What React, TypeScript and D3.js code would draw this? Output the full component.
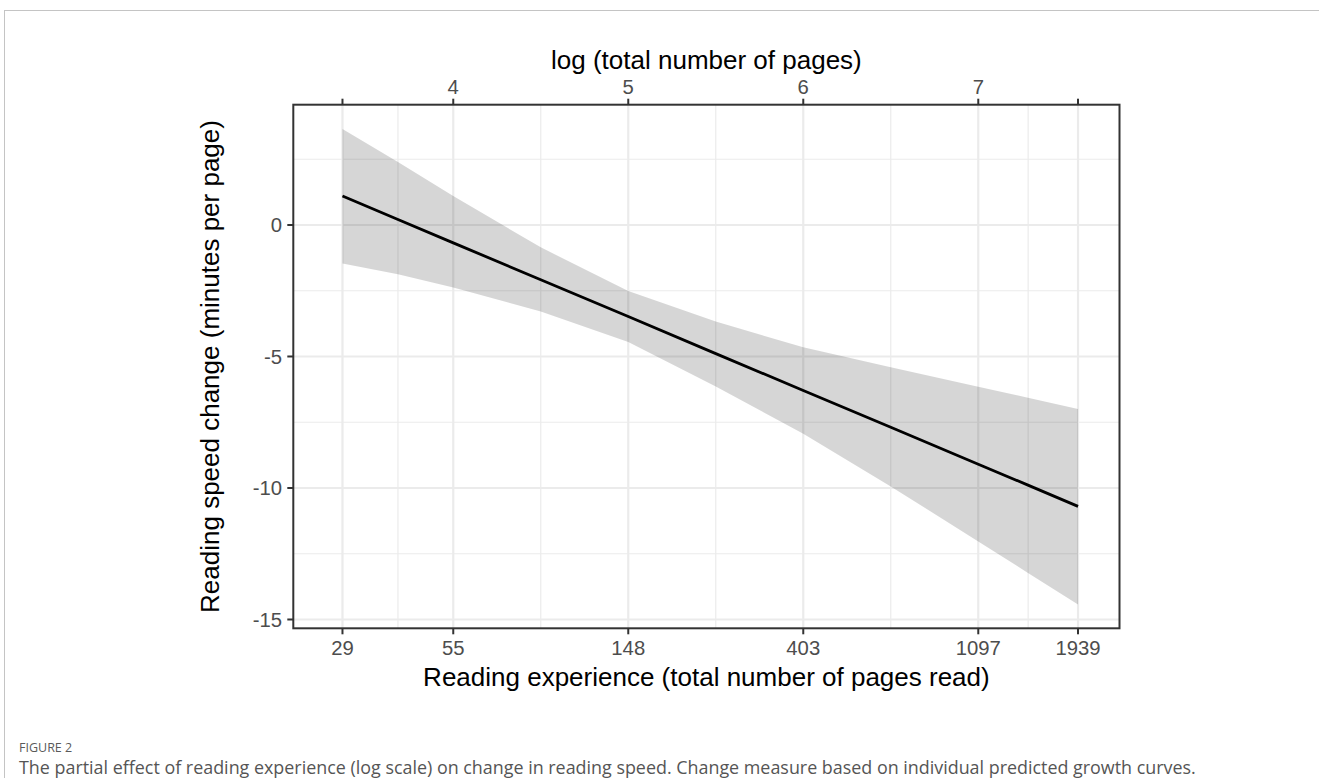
import React from 'react';
import * as d3 from 'd3';

// x in log(total number of pages)
const logPages = [3.367, 3.684, 4.0, 4.5, 5.0, 5.5, 6.0, 6.5, 7.0, 7.284, 7.57];
const fitted = [1.1, 0.21, -0.68, -2.08, -3.48, -4.89, -6.29, -7.69, -9.1, -9.89, -10.7];
const upperCI = [3.65, 2.4, 1.1, -0.85, -2.51, -3.67, -4.65, -5.41, -6.15, -6.57, -7.0];
const lowerCI = [-1.46, -1.87, -2.38, -3.29, -4.45, -6.14, -7.94, -9.94, -12.03, -13.23, -14.43];

const xBreaks = [3.367, 4, 5, 6, 7, 7.57];
const pageLabels = ['29', '55', '148', '403', '1097', '1939'];
const logLabels = ['', '4', '5', '6', '7', ''];
const xMinor = [3.684, 4.5, 5.5, 6.5, 7.285];
const yBreaks = [0, -5, -10, -15];
const yMinor = [2.5, -2.5, -7.5, -12.5];

const W = 1319;
const H = 778;
const panel = { left: 293.3, right: 1119.5, top: 104.7, bottom: 628.3 };
const font = '"Liberation Sans", Arial, Helvetica, sans-serif';
const capFont = '"Open Sans", "Noto Sans", sans-serif';
const tickLen = 6;
const tickSize = 20.3;
const titleSize = 26;

export default function App() {
  const x = d3.scaleLinear().domain([3.086, 7.807]).range([panel.left, panel.right]);
  const y = d3.scaleLinear().domain([-15.335, 4.574]).range([panel.bottom, panel.top]);

  const rows = logPages.map((v, i) => ({ x: v, fit: fitted[i], lo: lowerCI[i], hi: upperCI[i] }));
  const area = d3.area<any>().x(d => x(d.x)).y0(d => y(d.lo)).y1(d => y(d.hi));
  const line = d3.line<any>().x(d => x(d.x)).y(d => y(d.fit));

  const midX = (panel.left + panel.right) / 2;
  const midY = (panel.top + panel.bottom) / 2;

  return (
    <svg width={W} height={H} style={{ position: 'absolute', left: 0, top: 0 }}>
      <rect x={0} y={0} width={W} height={H} fill="#fff" />
      {/* page frame */}
      <line x1={4} x2={W} y1={10.5} y2={10.5} stroke="#c4c4c4" strokeWidth={1} />
      <line x1={4.5} x2={4.5} y1={10} y2={H} stroke="#c4c4c4" strokeWidth={1} />

      <g>
        {xMinor.map(v => (
          <line key={'xm' + v} x1={x(v)} x2={x(v)} y1={panel.top} y2={panel.bottom} stroke="#ebebeb" strokeWidth={1.2} />
        ))}
        {yMinor.map(v => (
          <line key={'ym' + v} x1={panel.left} x2={panel.right} y1={y(v)} y2={y(v)} stroke="#ebebeb" strokeWidth={1.2} />
        ))}
        {xBreaks.map(v => (
          <line key={'xg' + v} x1={x(v)} x2={x(v)} y1={panel.top} y2={panel.bottom} stroke="#ebebeb" strokeWidth={2.2} />
        ))}
        {yBreaks.map(v => (
          <line key={'yg' + v} x1={panel.left} x2={panel.right} y1={y(v)} y2={y(v)} stroke="#ebebeb" strokeWidth={2.2} />
        ))}
      </g>

      <path d={area(rows) || ''} fill="#000" fillOpacity={0.16} />
      <path d={line(rows) || ''} fill="none" stroke="#000" strokeWidth={2.8} />

      <rect x={panel.left} y={panel.top} width={panel.right - panel.left} height={panel.bottom - panel.top}
        fill="none" stroke="#333" strokeWidth={2} />

      {/* bottom axis */}
      {xBreaks.map((v, i) => (
        <g key={'bx' + i}>
          <line x1={x(v)} x2={x(v)} y1={panel.bottom} y2={panel.bottom + tickLen} stroke="#333" strokeWidth={2} />
          <text x={x(v)} y={654.5} textAnchor="middle" fontFamily={font} fontSize={tickSize} fill="#4d4d4d">{pageLabels[i]}</text>
        </g>
      ))}
      {/* top axis */}
      {xBreaks.map((v, i) => (
        <g key={'tx' + i}>
          <line x1={x(v)} x2={x(v)} y1={panel.top} y2={panel.top - tickLen} stroke="#333" strokeWidth={2} />
          <text x={x(v)} y={93.5} textAnchor="middle" fontFamily={font} fontSize={tickSize} fill="#4d4d4d">{logLabels[i]}</text>
        </g>
      ))}
      {/* left axis */}
      {yBreaks.map(v => (
        <g key={'ly' + v}>
          <line x1={panel.left} x2={panel.left - tickLen} y1={y(v)} y2={y(v)} stroke="#333" strokeWidth={2} />
          <text x={282} y={y(v)} dy="0.36em" textAnchor="end" fontFamily={font} fontSize={tickSize} fill="#4d4d4d">{String(v)}</text>
        </g>
      ))}

      <text x={midX} y={686} textAnchor="middle" fontFamily={font} fontSize={titleSize} fill="#000">
        Reading experience (total number of pages read)
      </text>
      <text x={midX} y={69} textAnchor="middle" fontFamily={font} fontSize={titleSize} fill="#000">
        log (total number of pages)
      </text>
      <text transform={`translate(218.5,${midY}) rotate(-90)`} textAnchor="middle" fontFamily={font} fontSize={titleSize} fill="#000">
        Reading speed change (minutes per page)
      </text>

      <text x={19} y={752} fontFamily={capFont} fontSize={12.5} fill="#5a5a5a">FIGURE 2</text>
      <text x={19} y={774} fontFamily={capFont} fontSize={17.9} fill="#555">
        The partial effect of reading experience (log scale) on change in reading speed. Change measure based on individual predicted growth curves.
      </text>
    </svg>
  );
}
